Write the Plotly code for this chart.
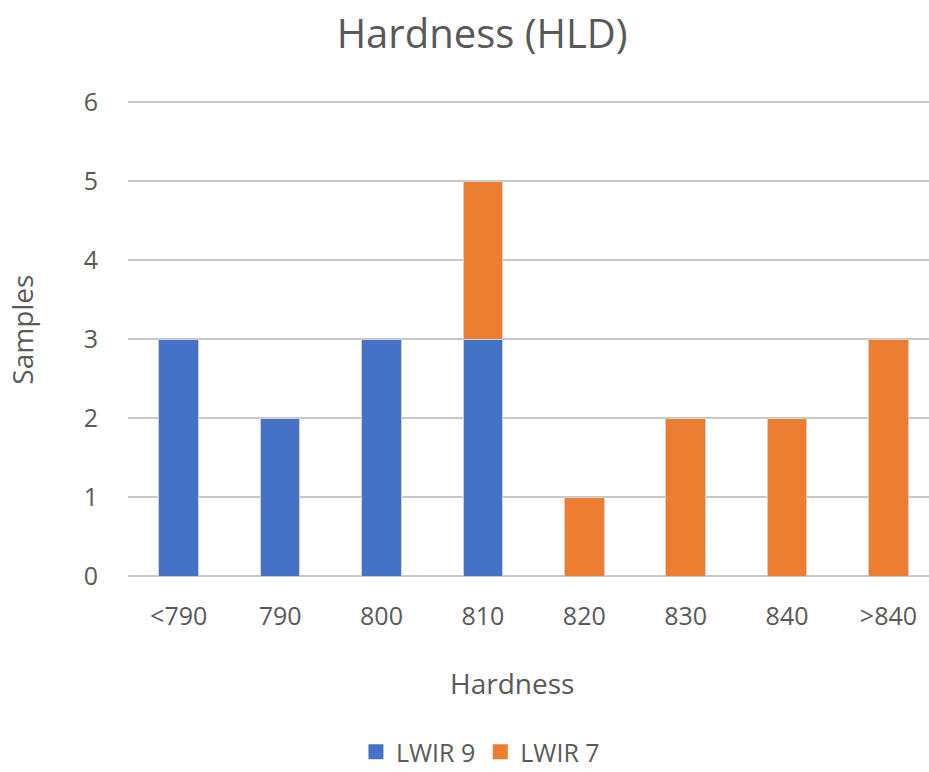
import plotly.graph_objects as go

categories = ["<790", "790", "800", "810", "820", "830", "840", ">840"]
lwir9 = [3, 2, 3, 3, 0, 0, 0, 0]
lwir7 = [0, 0, 0, 2, 1, 2, 2, 3]
y_ticks = [0, 1, 2, 3, 4, 5, 6]

FONT = "Open Sans"
GREY = "#595959"
BLUE = "#4472C4"
ORANGE = "#ED7D31"
EDGE = "#D0D0D0"
CLEAR = "rgba(0,0,0,0)"

fig = go.Figure()
fig.add_trace(go.Bar(x=categories, y=lwir9, name="LWIR 9", showlegend=False,
                     marker=dict(color=BLUE, line=dict(color=EDGE, width=1)),
                     width=0.39))
fig.add_trace(go.Bar(x=categories, y=lwir7, name="LWIR 7", showlegend=False,
                     marker=dict(color=ORANGE, line=dict(color=EDGE, width=1)),
                     width=0.39))
# square legend keys
for name, col in [("LWIR 9", BLUE), ("LWIR 7", ORANGE)]:
    fig.add_trace(go.Scatter(x=[None], y=[None], mode="markers", name=name,
                             marker=dict(symbol="square", size=15, color=col)))

fig.update_layout(
    width=929, height=772,
    barmode="stack",
    plot_bgcolor="white", paper_bgcolor="white",
    margin=dict(l=128, r=0, t=100, b=196, autoexpand=False),
    font=dict(family=FONT, color=GREY, size=25),
    title=dict(text="Hardness (HLD)", x=0.519, xanchor="center",
               y=1 - 34 / 772, yanchor="middle", yref="container",
               font=dict(size=40, color=GREY, family=FONT)),
    showlegend=True,
    legend=dict(orientation="h", x=0.44, xanchor="center",
                y=1 - 752 / 772, yanchor="middle", yref="container",
                font=dict(size=25, color=GREY), traceorder="normal",
                itemwidth=30, tracegroupgap=0),
    xaxis=dict(type="category", range=[-0.5, 7.4], showgrid=False,
               ticks="outside", ticklen=18, tickcolor=CLEAR,
               tickfont=dict(size=25, color=GREY), showline=False),
    yaxis=dict(range=[0, 6.03], tickvals=y_ticks, showgrid=True, gridcolor="#C8C8C8",
               gridwidth=2, zeroline=True, zerolinecolor="#C8C8C8", zerolinewidth=2,
               ticks="outside", ticklen=24, tickcolor=CLEAR,
               tickfont=dict(size=25, color=GREY)),
    annotations=[
        dict(text="Hardness", xref="paper", yref="paper", x=0.479, y=-0.225,
             showarrow=False, font=dict(size=28, color=GREY), yanchor="middle"),
        dict(text="Samples", xref="paper", yref="paper", x=-0.132, y=0.518,
             showarrow=False, textangle=-90, font=dict(size=28, color=GREY),
             xanchor="center", yanchor="middle"),
    ],
)

fig.write_html("out.html")
